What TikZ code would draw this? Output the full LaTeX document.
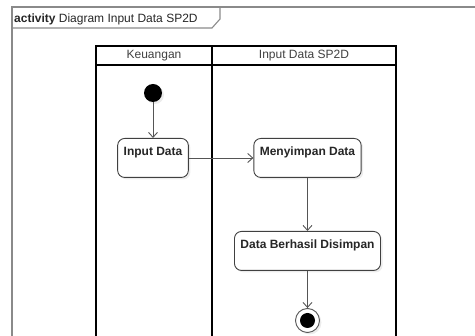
\documentclass[tikz,border=0pt]{standalone}
\usepackage{fontspec}
\setmainfont{Liberation Sans}
\usetikzlibrary{arrows.meta,shadows}
\definecolor{framegray}{HTML}{8A8A8A}
\definecolor{linegray}{HTML}{555555}
\definecolor{boxborder}{HTML}{404040}
\tikzset{
  px/.style={x=1pt,y=-1pt},
  framebox/.style={draw=framegray,line width=1.1pt},
  lane/.style={draw=black,line width=1.6pt},
  lanehead/.style={font=\fontsize{12}{14}\selectfont,text=black!75,anchor=center},
  actbox/.style={draw=boxborder,line width=0.9pt,rounded corners=7pt,fill=white,
    font=\bfseries\fontsize{12}{14}\selectfont,text=black!85,
    inner xsep=6pt,inner ysep=4pt,text height=13pt,text depth=18pt,
    drop shadow={shadow xshift=2pt,shadow yshift=-2pt,opacity=0.15}},
  flow/.style={draw=linegray,line width=0.9pt,-{Straight Barb[length=5pt,width=9pt]}},
  startnode/.style={circle,fill=black,minimum size=18pt,inner sep=0pt,
    drop shadow={shadow xshift=2pt,shadow yshift=-2pt,opacity=0.15}},
  endouter/.style={circle,draw=linegray,line width=0.9pt,fill=white,minimum size=24pt,inner sep=0pt,
    drop shadow={shadow xshift=2pt,shadow yshift=-2pt,opacity=0.15}},
  endinner/.style={circle,fill=black,minimum size=15pt,inner sep=0pt},
}
\begin{document}
\begin{tikzpicture}[px]
\useasboundingbox (0,0) rectangle (475,336);
% frame
\draw[framebox] (12,340) -- (12,7) -- (480,7);
\draw[framebox] (12,28) -- (212,28) -- (220,19) -- (220,7);
\node[anchor=base west,inner sep=0pt,font=\fontsize{12}{14}\selectfont,text=black!85] (title) at (14,23)
  {\textbf{activity} Diagram Input Data SP2D};
% swimlanes
\draw[lane] (96,340) -- (96,46) -- (396,46) -- (396,340);
\draw[lane] (96,65) -- (396,65);
\draw[lane] (212,46) -- (212,340);
\node[lanehead] (lk) at (154,55.5) {Keuangan};
\node[lanehead] (li) at (304,55.5) {Input Data SP2D};
% nodes
\node[startnode] (start) at (153,93) {};
\node[actbox,anchor=north] (input) at (153,138) {Input Data};
\node[actbox,anchor=north] (simpan) at (307.5,138) {Menyimpan Data};
\node[actbox,anchor=north] (hasil) at (307.5,231) {Data Berhasil Disimpan};
\node[endouter] (end) at (307.5,320.5) {};
\node[endinner] (endi) at (end.center) {};
% flows
\draw[flow] (start) -- (input);
\draw[flow] (input.east |- 0,158) -- (simpan.west |- 0,158);
\draw[flow] (simpan) -- (hasil);
\draw[flow] (hasil) -- (end);
\end{tikzpicture}
\end{document}
